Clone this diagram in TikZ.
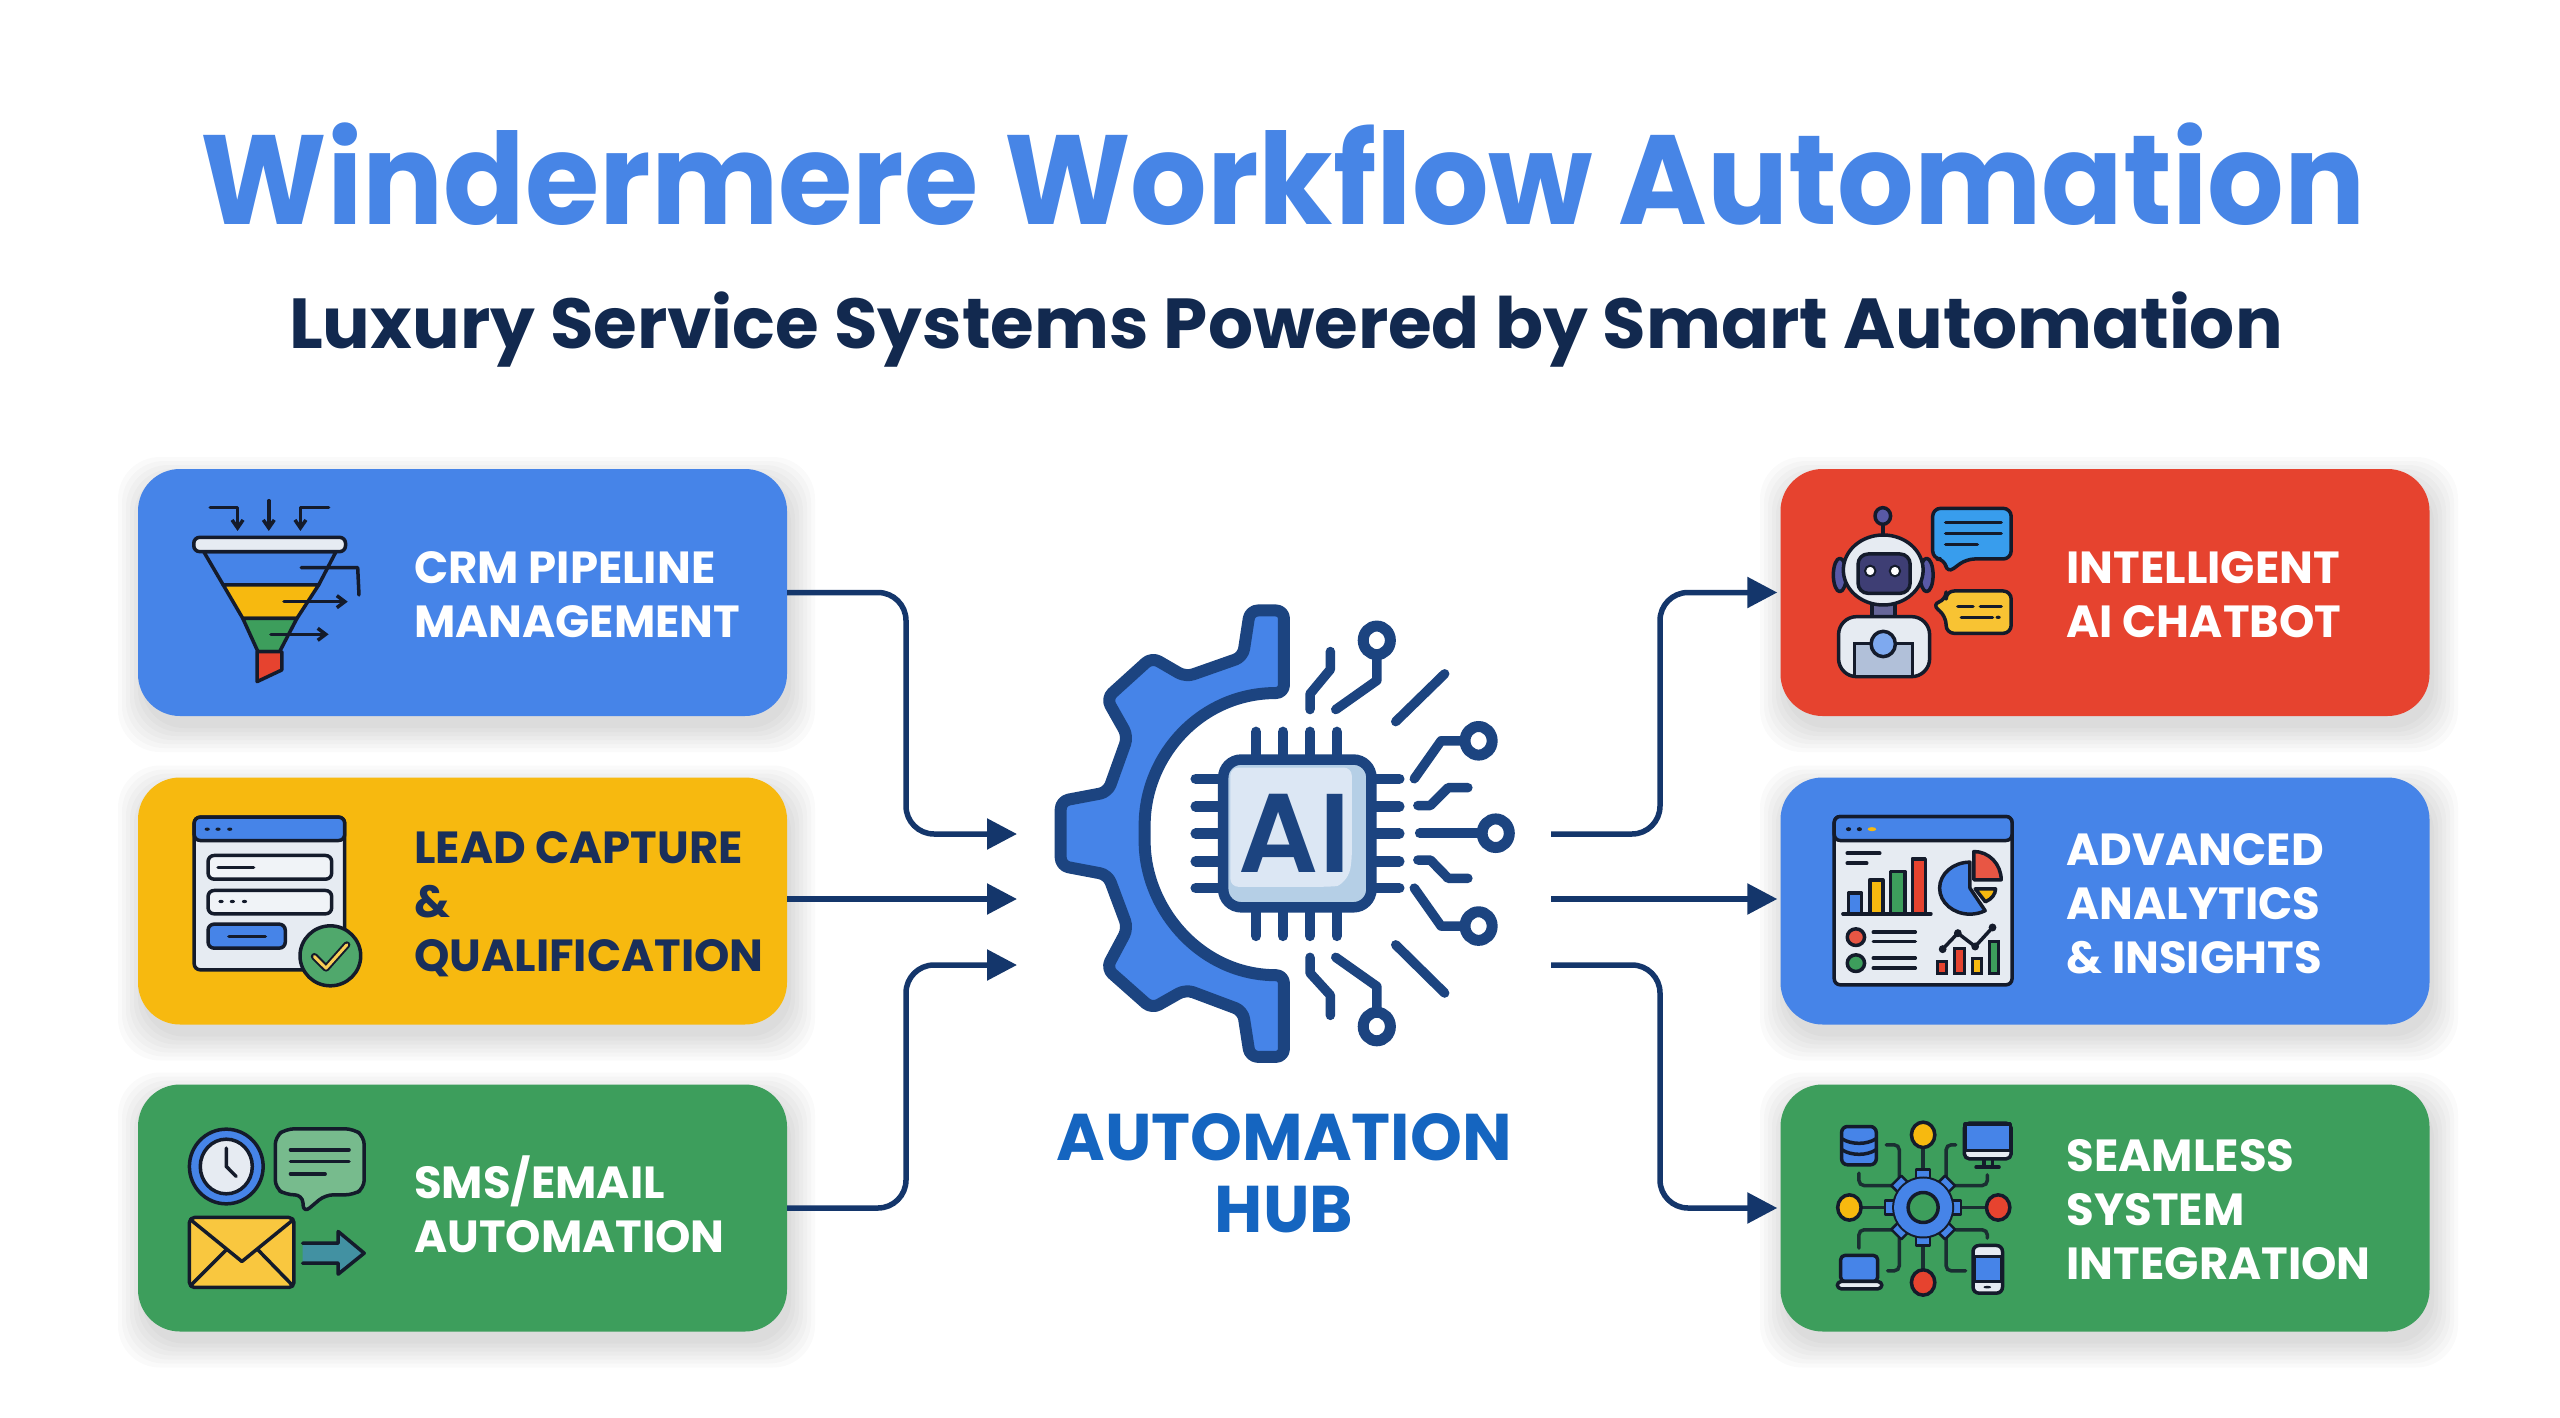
\documentclass[tikz,border=0pt]{standalone}
\usepackage{fontspec}
\usepackage{graphicx}
\setmainfont{Poppins}
\newfontfamily\aifont{Poppins SemiBold}
\usetikzlibrary{arrows.meta}
\definecolor{cblue}{HTML}{4684E8}
\definecolor{cyellow}{HTML}{F7B90F}
\definecolor{cgreen}{HTML}{3D9E5C}
\definecolor{cred}{HTML}{E6432F}
\definecolor{navy}{HTML}{14366B}
\definecolor{gearline}{HTML}{1C4480}
\definecolor{titleblue}{HTML}{4785E6}
\definecolor{subnavy}{HTML}{12294F}
\definecolor{hubblue}{HTML}{1565C0}
\definecolor{ink}{HTML}{141B2B}
\definecolor{paper}{HTML}{E6EBF2}
\definecolor{cardnavy}{HTML}{1A2F5A}
\definecolor{chiplight}{HTML}{DCE7F4}
\definecolor{chipdark}{HTML}{B5CFE6}
\tikzset{
  card/.style={rounded corners=42pt,minimum width=649pt,minimum height=247pt,inner sep=0pt},
  cardtext/.style={anchor=west,align=left,inner sep=0pt,font=\fontsize{45}{54}\selectfont\bfseries},
  conn/.style={draw=navy,line width=5.5pt,rounded corners=28pt,-{Triangle[length=30pt,width=30pt]}},
  pin/.style={draw=gearline,line width=10.5pt,line cap=round},
  trace/.style={draw=gearline,line width=9.5pt,line cap=round,line join=round},
  ring/.style={draw=gearline,fill=white,line width=11pt},
  ic/.style={draw=ink,line width=3.5pt,line join=round,line cap=round},
}
\newcommand{\softshadow}[4]{%
  \foreach \e in {0,4,...,24}{
    \fill[black,opacity=.018,rounded corners=42pt] (#1-\e+4,#2-\e+12) rectangle (#3+\e+4,#4+\e+12);
  }}
\begin{document}
\begin{tikzpicture}[x=1pt,y=-1pt]
\useasboundingbox (0,0) rectangle (2560,1418);
\fill[white] (0,0) rectangle (2560,1418);
% titles
\node[anchor=base,inner sep=0pt,text=titleblue,font=\fontsize{127}{130}\selectfont\bfseries] (title) at (1283,224) {\scalebox{.948}[1]{Windermere Workflow Automation}};
\node[anchor=base,inner sep=0pt,text=subnavy,font=\fontsize{70.8}{74}\selectfont\bfseries] (subtitle) at (1286,348) {Luxury Service Systems Powered by Smart Automation};
% shadows
\softshadow{138}{469}{787}{716}
\softshadow{138}{777.5}{787}{1024.5}
\softshadow{138}{1084.5}{787}{1331.5}
\softshadow{1780}{469}{2430}{716}
\softshadow{1780}{777.5}{2430}{1024.5}
\softshadow{1780}{1084.5}{2430}{1331.5}
% cards
\node[card,fill=cblue] (crm) at (462.5,592.5) {};
\node[card,fill=cyellow] (lead) at (462.5,901) {};
\node[card,fill=cgreen] (sms) at (462.5,1208) {};
\node[card,fill=cred] (bot) at (2105,592.5) {};
\node[card,fill=cblue] (ana) at (2105,901) {};
\node[card,fill=cgreen] (sys) at (2105,1208) {};
% card labels
\node[cardtext,text=white] (crmt) at (414,594.5) {CRM PIPELINE\\MANAGEMENT};
\node[cardtext,text=cardnavy] (leadt) at (414,904) {LEAD CAPTURE\\\&\\QUALIFICATION};
\node[cardtext,text=white] (smst) at (414,1204) {SMS/EMAIL\\AUTOMATION};
\node[cardtext,text=white] (bott) at (2066.5,594.5) {INTELLIGENT\\AI CHATBOT};
\node[cardtext,text=white] (anat) at (2066.5,904) {ADVANCED\\ANALYTICS\\\& INSIGHTS};
\node[cardtext,text=white] (syst) at (2066.5,1209.5) {SEAMLESS\\SYSTEM\\INTEGRATION};
% connectors
\coordinate (busL) at (906,900);
\coordinate (busR) at (1660,900);
\coordinate (inA) at (1017,834);
\coordinate (inB) at (1017,899);
\coordinate (inC) at (1017,965);
\coordinate (outA) at (1551,834);
\coordinate (outB) at (1551,899);
\coordinate (outC) at (1551,965);
\draw[conn] (crm.east) -- (crm.east -| busL) -- (busL |- inA) -- (inA);
\draw[conn] (lead.east |- inB) -- (inB);
\draw[conn] (sms.east) -- (sms.east -| busL) -- (busL |- inC) -- (inC);
\draw[conn,shorten >=3pt] (outA) -- (outA -| busR) -- (busR |- bot.west) -- (bot.west);
\draw[conn,shorten >=3pt] (outB) -- (ana.west |- outB);
\draw[conn,shorten >=3pt] (outC) -- (outC -| busR) -- (busR |- sys.west) -- (sys.west);
% hub icon
\begin{scope}[shift={(1000,560)},x=.35714pt,y=-.44643pt]
\draw[draw=gearline,fill=cblue,line width=12pt,line join=round,rounded corners=8pt]
 (795,113) -- (700,113) -- (680,217) -- (520,262) -- (425,218) -- (298,310) -- (358,395) -- (302,520) -- (170,540) -- (170,685) -- (302,705) -- (358,825) -- (298,915) -- (425,1005) -- (520,962) -- (680,1010) -- (700,1113) -- (795,1113) -- (795,930)
 .. controls (560,930) and (405,780) .. (405,612) .. controls (405,440) and (560,298) .. (795,298) -- cycle;
\foreach \p in {717,792,868,943}{
  \draw[pin] (\p,385) -- (\p,440);
  \draw[pin] (\p,790) -- (\p,842);
}
\foreach \p in {490,552,613,675,735}{
  \draw[pin] (548,\p) -- (620,\p);
  \draw[pin] (1040,\p) -- (1118,\p);
}
\draw[draw=gearline,fill=chipdark,line width=10.5pt,rounded corners=18pt] (625,447) rectangle (1040,778);
\fill[fill=chiplight,rounded corners=8pt] (645,465) -- (985,465) -- (985,675) .. controls (975,715) and (950,730) .. (920,732) -- (645,732) -- cycle;
\node[inner sep=0pt,text=gearline,font=\aifont\fontsize{112}{116}\selectfont] (ai) at (825,612) {AI};
\draw[trace] (868,335) -- (868,300) -- (925,245) -- (925,205);
\draw[trace] (940,335) -- (1055,270) -- (1055,215);
\draw[trace] (1108,362) -- (1245,255);
\draw[trace] (1160,490) -- (1235,405) -- (1300,405);
\draw[trace] (1170,550) -- (1205,550) -- (1255,510) -- (1310,510);
\draw[trace] (1175,612) -- (1345,612);
\draw[trace] (1170,672) -- (1205,672) -- (1255,713) -- (1310,713);
\draw[trace] (1160,735) -- (1235,820) -- (1300,820);
\draw[trace] (1108,862) -- (1245,970);
\draw[trace] (940,890) -- (1055,955) -- (1055,1010);
\draw[trace] (868,890) -- (868,925) -- (925,975) -- (925,1020);
\foreach \cx/\cy in {1055/180,1340/405,1388/612,1340/820,1055/1045}{
  \draw[ring] (\cx,\cy) circle[x radius=38,y radius=32];
}
\end{scope}
\node[inner sep=0pt,align=center,text=hubblue,font=\fontsize{66}{72}\selectfont\bfseries] (hub) at (1284,1173) {AUTOMATION\\HUB};
% CRM funnel icon
\begin{scope}[shift={(130,460)},x=.4337pt,y=-.3333pt]
\draw[ic,-{Straight Barb[length=8pt,width=11pt]}] (185,143) -- (248,143) -- (248,213);
\draw[ic,-{Straight Barb[length=8pt,width=11pt]}] (320,122) -- (320,213);
\draw[ic,-{Straight Barb[length=8pt,width=11pt]}] (458,143) -- (393,143) -- (393,213);
\draw[ic,fill=cblue] (170,275) -- (475,275) -- (435,375) -- (215,375) -- cycle;
\draw[ic,fill=cyellow] (215,375) -- (435,375) -- (385,475) -- (260,475) -- cycle;
\draw[ic,fill=cgreen] (260,475) -- (385,475) -- (345,575) -- (295,575) -- cycle;
\draw[ic,fill=cred] (293,575) -- (350,575) -- (350,630) -- (293,665) -- cycle;
\draw[ic,fill=paper,rounded corners=6pt] (147,232) rectangle (497,275);
\draw[ic] (395,323) -- (525,323) -- (528,405);
\draw[ic,-{Straight Barb[length=8pt,width=12pt]}] (355,425) -- (502,425);
\draw[ic,-{Straight Barb[length=8pt,width=12pt]}] (325,523) -- (458,523);
\end{scope}
% lead form icon
\begin{scope}[shift={(130,771.5)},x=.4337pt,y=-.3333pt]
\draw[ic,fill=paper,rounded corners=6pt] (148,137) rectangle (495,595);
\draw[ic,fill=cblue,rounded corners=6pt] (148,207) -- (148,137) -- (495,137) -- (495,207) -- cycle;
\foreach \p in {178,203,230} \fill[ink] (\p,173) circle[x radius=6,y radius=5];
\draw[ic,fill=paper!60!white,rounded corners=6pt] (180,252) rectangle (465,323);
\draw[ic] (203,288) -- (285,288);
\draw[ic,fill=paper!60!white,rounded corners=6pt] (180,357) rectangle (465,427);
\foreach \p in {210,236,264} \fill[ink] (\p,390) circle[x radius=6,y radius=5];
\draw[ic,fill=cblue,rounded corners=6pt] (180,458) rectangle (358,530);
\draw[ic] (228,495) -- (312,495);
\draw[ic,fill=cgreen!90!white] (462,553) circle[x radius=70,y radius=90];
\draw[draw=ink,line width=7pt,line join=round,line cap=round] (425,555) -- (452,590) -- (500,520);
\draw[draw=cyellow!70!white,line width=3pt,line join=round,line cap=round] (425,555) -- (452,590) -- (500,520);
\end{scope}
% sms icon
\begin{scope}[shift={(130,1081.5)},x=.4337pt,y=-.3333pt]
\draw[ic,fill=cblue] (222,255) circle[x radius=85,y radius=112];
\draw[ic,fill=paper] (222,255) circle[x radius=60,y radius=82];
\draw[ic] (222,200) -- (222,255) -- (245,285);
\draw[ic,fill=cgreen!70!white,rounded corners=8pt] (360,142) -- (515,142) -- (540,165) -- (540,320) -- (515,340) -- (450,340) -- (400,395) -- (398,340) -- (360,340) -- (335,320) -- (335,165) -- cycle;
\foreach \a/\b/\c in {370/505/205,370/505/240,370/450/277} \draw[ic] (\a,\c) -- (\b,\c);
\draw[ic,fill=cyellow!80!white,rounded corners=5pt] (137,408) rectangle (378,618);
\draw[ic] (140,415) -- (258,540) -- (376,415);
\draw[ic] (140,612) -- (222,505);
\draw[ic] (375,612) -- (295,505);
\fill[fill=cblue!50!cgreen] (398,485) -- (480,485) -- (480,450) -- (540,515) -- (480,578) -- (480,545) -- (398,545) -- cycle;
\draw[ic] (398,485) -- (480,485) -- (480,450) -- (540,515) -- (480,578) -- (480,545) -- (398,545);
\end{scope}
% robot icon
\begin{scope}[shift={(1780,460)},x=.4337pt,y=-.3333pt]
\draw[ic] (237,190) -- (237,230);
\draw[ic,fill=gray!70!blue] (237,168) circle[x radius=18,y radius=25];
\draw[ic,fill=gray!70!blue] (138,345) circle[x radius=15,y radius=50];
\draw[ic,fill=gray!70!blue] (338,345) circle[x radius=15,y radius=50];
\draw[ic,fill=gray!80!blue] (212,425) rectangle (265,470);
\draw[ic,fill=paper] (238,330) circle[x radius=92,y radius=105];
\draw[ic,fill=gray!70!blue!70!black,rounded corners=10pt] (180,282) rectangle (300,400);
\draw[ink,fill=white,line width=2pt] (208,333) circle[x radius=12,y radius=16];
\draw[ink,fill=white,line width=2pt] (265,333) circle[x radius=12,y radius=16];
\draw[ic,fill=paper,rounded corners=18pt] (135,650) -- (135,470) -- (345,470) -- (345,650) -- cycle;
\draw[ink,fill=gray!50!cblue!50!white,line width=3pt] (172,550) rectangle (305,650);
\draw[ic,fill=cblue!70!white] (238,552) circle[x radius=28,y radius=38];
\draw[ic,fill=cblue!80!cyan,rounded corners=8pt] (352,145) -- (533,145) -- (533,297) -- (430,297) -- (385,340) -- (380,297) -- (352,297) -- cycle;
\foreach \a/\b/\c in {382/510/187,382/510/220,382/455/253} \draw[ic] (\a,\c) -- (\b,\c);
\draw[ic,fill=cyellow!85!white,rounded corners=8pt] (383,393) -- (533,393) -- (533,520) -- (383,520) -- (383,470) -- (350,432) -- (383,420) -- cycle;
\draw[ic] (410,440) -- (445,440);
\draw[ic] (462,440) -- (510,440);
\draw[ic] (418,472) -- (490,472);
\fill[ink] (503,472) circle[x radius=6,y radius=5];
\end{scope}
% analytics icon
\begin{scope}[shift={(1780,771.5)},x=.4337pt,y=-.3333pt]
\draw[ic,fill=paper,rounded corners=6pt] (125,135) rectangle (535,640);
\draw[ic,fill=cblue,rounded corners=6pt] (125,207) -- (125,135) -- (535,135) -- (535,207) -- cycle;
\foreach \p in {158,183} \fill[ink] (\p,173) circle[x radius=6,y radius=6];
\fill[cyellow] (212,173) circle[x radius=10,y radius=6];
\draw[ic] (155,245) -- (230,245);
\draw[ic] (155,275) -- (200,275);
\draw[ic,fill=cblue] (158,365) rectangle (188,427);
\draw[ic,fill=cyellow] (207,325) rectangle (237,427);
\draw[ic,fill=cgreen] (255,300) rectangle (288,427);
\draw[ic,fill=cred] (305,262) rectangle (335,427);
\draw[ic] (145,427) -- (348,427);
\draw[ic,fill=cblue] (438,350) -- (438,272) arc[start angle=270,end angle=60,x radius=70,y radius=78] -- cycle;
\draw[ic,fill=cred!90!white] (447,325) -- (447,240) arc[start angle=-90,end angle=0,x radius=63,y radius=85] -- cycle;
\draw[ic,fill=cyellow] (450,352) -- (497,352) arc[start angle=0,end angle=60,x radius=47,y radius=45] -- cycle;
\draw[ic,fill=cred!90!white] (175,497) circle[x radius=20,y radius=25];
\draw[ic,fill=cgreen] (175,575) circle[x radius=20,y radius=25];
\foreach \c in {482,510,560,590} \draw[ic] (215,\c) -- (312,\c);
\draw[ink,line width=3pt,fill=cred] (363,570) rectangle (383,605);
\draw[ink,line width=3pt,fill=cred] (403,532) rectangle (425,605);
\draw[ink,line width=3pt,fill=cyellow] (443,560) rectangle (465,605);
\draw[ink,line width=3pt,fill=cgreen] (482,510) rectangle (503,605);
\draw[ic] (375,533) -- (410,485) -- (450,525) -- (490,468);
\foreach \a/\b in {375/533,410/485,450/525,490/468} \fill[ink] (\a,\b) circle[x radius=9,y radius=12];
\end{scope}
% integration icon
\begin{scope}[shift={(1780,1081.5)},x=.4337pt,y=-.3333pt]
\tikzset{lk/.style={draw=ink!85!cgreen,line width=3.5pt,line cap=round,rounded corners=5pt}}
\draw[lk] (330,190) -- (330,270);
\draw[lk] (330,480) -- (330,575);
\draw[lk] (190,378) -- (245,378);
\draw[lk] (420,378) -- (475,378);
\draw[lk] (245,190) -- (275,190) -- (275,290);
\draw[lk] (182,275) -- (182,312) -- (260,312);
\draw[lk] (405,190) -- (383,190) -- (383,290);
\draw[lk] (478,280) -- (478,312) -- (400,312);
\draw[lk] (182,500) -- (182,445) -- (265,445);
\draw[lk] (478,470) -- (478,445) -- (405,445);
\draw[lk] (248,568) -- (275,568) -- (275,470);
\draw[lk] (428,568) -- (383,568) -- (383,470);
\draw[ic,fill=cyellow] (330,160) circle[x radius=27,y radius=38];
\draw[ic,fill=cyellow] (160,378) circle[x radius=27,y radius=38];
\draw[ic,fill=cred] (503,378) circle[x radius=27,y radius=38];
\draw[ic,fill=cred] (330,603) circle[x radius=27,y radius=38];
\begin{scope}[shift={(330,378)},x=1pt,y=1pt]
\foreach \a in {0,45,...,315}{
  \draw[ic,fill=cblue,line width=2.5pt,rotate=\a] (-7,26) rectangle (7,38);
}
\fill[ink] (0,0) circle[radius=31];
\fill[cblue] (0,0) circle[radius=29];
\draw[ic,fill=cgreen] (0,0) circle[radius=15];
\end{scope}
\draw[ic,fill=cblue,rounded corners=6pt] (142,135) rectangle (222,250);
\draw[ic] (143,172) .. controls (165,190) and (200,190) .. (221,172);
\draw[ic] (143,205) .. controls (165,223) and (200,223) .. (221,205);
\draw[ic,fill=paper,rounded corners=5pt] (425,125) rectangle (533,232);
\draw[ic,fill=cblue] (427,127) rectangle (531,207);
\draw[ic] (470,232) -- (470,250);
\draw[ic] (490,232) -- (490,250);
\draw[ic] (452,257) -- (505,257);
\draw[ic,fill=cblue,rounded corners=4pt] (140,522) rectangle (225,600);
\draw[ic,fill=paper,rounded corners=4pt] (132,600) rectangle (235,622);
\draw[ic,fill=paper,rounded corners=6pt] (445,492) rectangle (513,635);
\draw[ic,fill=cblue] (447,525) rectangle (511,600);
\fill[ink] (478,617) circle[x radius=9,y radius=4];
\end{scope}
\end{tikzpicture}
\end{document}
